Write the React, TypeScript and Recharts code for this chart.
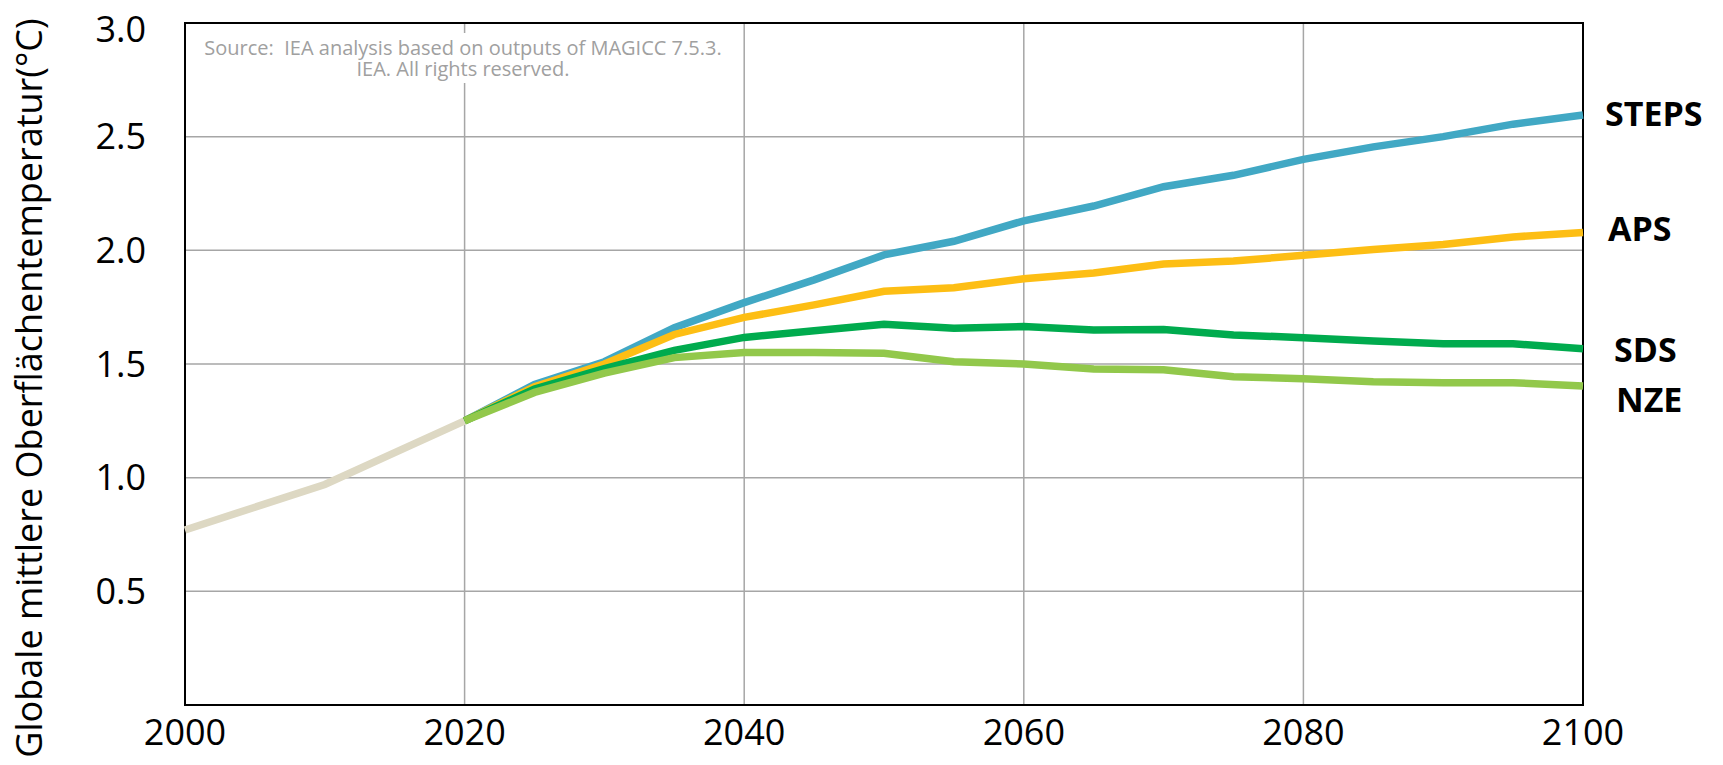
import {
  CartesianGrid,
  LabelList,
  Line,
  LineChart,
  ReferenceArea,
  XAxis,
  YAxis,
} from "recharts";

const years = [
  2000, 2005, 2010, 2015, 2020, 2025, 2030, 2035, 2040, 2045, 2050, 2055, 2060,
  2065, 2070, 2075, 2080, 2085, 2090, 2095, 2100,
];

// 2000-2020 history
const historical = [0.77, 0.87, 0.97, 1.11, 1.25];

// 2020-2100 scenarios
const steps = [
  1.25, 1.41, 1.51, 1.66, 1.77, 1.87, 1.98, 2.04, 2.13, 2.195, 2.28, 2.33, 2.4,
  2.455, 2.5, 2.555, 2.595,
];
const aps = [
  1.25, 1.4, 1.5, 1.63, 1.705, 1.76, 1.82, 1.835, 1.875, 1.9, 1.94, 1.953, 1.978,
  2.004, 2.026, 2.059, 2.078,
];
const sds = [
  1.25, 1.39, 1.48, 1.56, 1.617, 1.646, 1.675, 1.657, 1.665, 1.65, 1.652, 1.628,
  1.616, 1.601, 1.589, 1.589, 1.567,
];
const nze = [
  1.25, 1.375, 1.46, 1.528, 1.551, 1.551, 1.547, 1.51, 1.5, 1.478, 1.475, 1.444,
  1.435, 1.422, 1.418, 1.418, 1.403,
];

const xTicks = [2000, 2020, 2040, 2060, 2080, 2100];
const yTicks = [0.5, 1.0, 1.5, 2.0, 2.5, 3.0];

const yTitle = "Globale mittlere Oberflächentemperatur(°C)";
const sourceLines = [
  "Source:  IEA analysis based on outputs of MAGICC 7.5.3.",
  "IEA. All rights reserved.",
];

const histLen = historical.length;
const data = years.map((year, i) => {
  const s = i - (histLen - 1);
  return {
    year,
    hist: i < histLen ? historical[i] : null,
    STEPS: s >= 0 ? steps[s] : null,
    APS: s >= 0 ? aps[s] : null,
    SDS: s >= 0 ? sds[s] : null,
    NZE: s >= 0 ? nze[s] : null,
  };
});

const FONT = "'Open Sans', sans-serif";

const series = [
  { key: "STEPS", color: "#41A8C4", dx: 22, dy: -2 },
  { key: "APS", color: "#FDBE14", dx: 25, dy: -5 },
  { key: "SDS", color: "#00AB4E", dx: 31, dy: 0 },
  { key: "NZE", color: "#92C84B", dx: 33, dy: 13 },
];

function endLabel(name: string, dx: number, dy: number) {
  return (props: any) => {
    if (props.index !== data.length - 1) return null;
    return (
      <text
        x={props.x + dx}
        y={props.y + dy}
        dominantBaseline="central"
        fontFamily={FONT}
        fontWeight={700}
        fontSize={34}
        fill="#000"
      >
        {name}
      </text>
    );
  };
}

export default function App() {
  return (
    <div style={{ position: "relative", width: 1715, height: 757 }}>
      <LineChart
        width={1715}
        height={757}
        data={data}
        margin={{ top: 15, right: 140, bottom: 0, left: 0 }}
        style={{ fontFamily: FONT }}
      >
        <CartesianGrid stroke="#A6A6A6" strokeWidth={1.5} />
        <XAxis
          dataKey="year"
          type="number"
          domain={[2000, 2100]}
          ticks={xTicks}
          height={60}
          tickLine={false}
          axisLine={false}
          tickSize={0}
          tickMargin={14}
          tick={{ fill: "#000", fontSize: 36 }}
        />
        <YAxis
          type="number"
          domain={[0, 3]}
          ticks={yTicks}
          width={177}
          tickLine={false}
          axisLine={false}
          tickSize={0}
          tickMargin={39}
          tickFormatter={(v: number) => v.toFixed(1)}
          tick={{ fill: "#000", fontSize: 36 }}
          label={{
            content: () => (
              <text
                x={20}
                y={380}
                transform="rotate(-90 20 380)"
                textAnchor="middle"
                dominantBaseline="central"
                fontFamily={FONT}
                fontSize={36}
                fill="#000"
              >
                {yTitle}
              </text>
            ),
          }}
        />
        <Line
          dataKey="hist"
          stroke="#DDD8C3"
          strokeWidth={7.5}
          dot={false}
          isAnimationActive={false}
        />
        {series.map((s) => (
          <Line
            key={s.key}
            dataKey={s.key}
            stroke={s.color}
            strokeWidth={7.5}
            dot={false}
            isAnimationActive={false}
          >
            <LabelList dataKey={s.key} content={endLabel(s.key, s.dx, s.dy)} />
          </Line>
        ))}
        <ReferenceArea
          x1={2000}
          x2={2100}
          y1={0}
          y2={3}
          fill="none"
          stroke="#000"
          strokeWidth={2}
          fillOpacity={0}
        />
      </LineChart>
      <div
        style={{
          position: "absolute",
          left: 178,
          top: 25,
          width: 554,
          height: 50,
          background: "#fff",
          color: "#A0A0A0",
          fontFamily: FONT,
          fontSize: 20,
          lineHeight: "21px",
          textAlign: "center",
          paddingTop: 4,
          boxSizing: "border-box",
        }}
      >
        {sourceLines.map((l) => (
          <div key={l} style={{ whiteSpace: "pre" }}>
            {l}
          </div>
        ))}
      </div>
    </div>
  );
}
